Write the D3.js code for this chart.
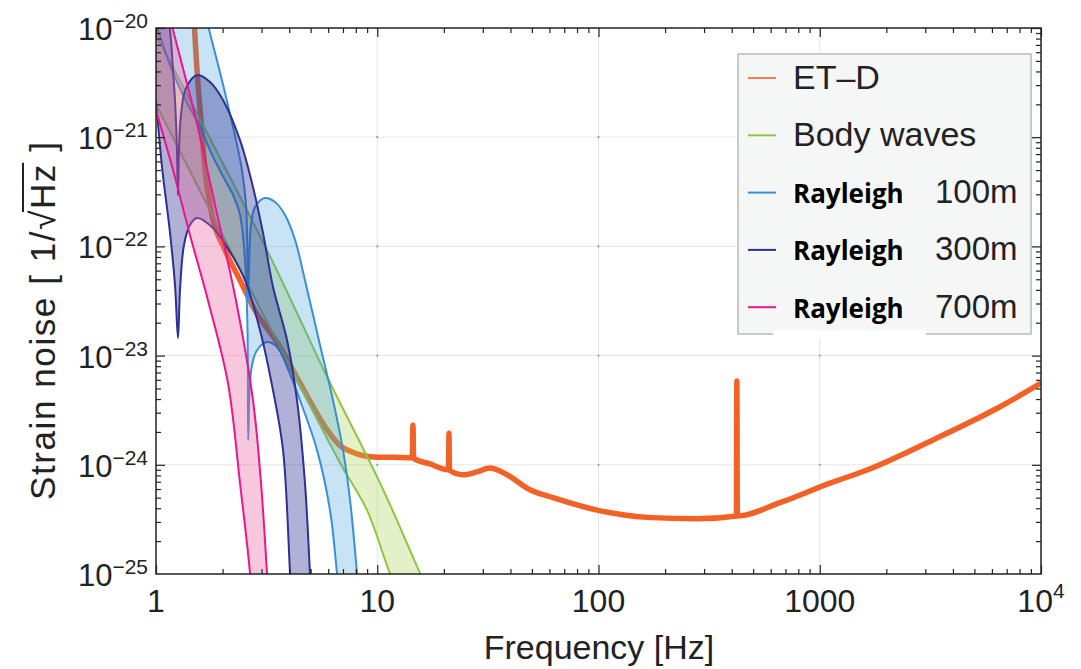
<!DOCTYPE html>
<html>
<head>
<meta charset="utf-8">
<script src="https://cdn.jsdelivr.net/npm/d3@7"></script>
<style>
  body { margin: 0; background: #fff; }
  svg text { font-family: "Liberation Sans", Arial, sans-serif; fill: #222; }
</style>
</head>
<body>
<svg id="chart" width="1081" height="669"></svg>
<script>
// [frequency Hz, strain 1/sqrt(Hz)]
const etdCurve = [
  [1.485, 1.18e-20], [1.532, 4.1e-21], [1.597, 1.44e-21], [1.665, 5.0e-22],
  [1.791, 1.94e-22], [2.05, 9.3e-23], [2.397, 4.9e-23], [2.802, 2.6e-23],
  [3.636, 1.2e-23], [4.476, 5.6e-24], [5.928, 2.1e-24], [6.786, 1.5e-24],
  [7.689, 1.31e-24], [9.568, 1.18e-24], [12.0, 1.17e-24], [14.4, 1.16e-24],
  [14.5, 2.3e-24], [14.6, 1.15e-24], [17.3, 1.02e-24], [21.0, 9.0e-25],
  [21.1, 1.95e-24], [21.2, 8.9e-25], [24.4, 8.1e-25], [28.2, 8.6e-25],
  [32.3, 9.35e-25], [38.6, 8.1e-25], [49, 5.9e-25], [62.3, 5.0e-25],
  [98.4, 3.85e-25], [166, 3.3e-25], [279, 3.2e-25], [420, 3.4e-25],
  [422, 5.85e-24], [424, 3.4e-25], [661, 4.5e-25], [1113, 6.8e-25],
  [1635, 8.95e-25], [3251, 1.69e-24], [6527, 3.4e-24], [10000, 5.6e-24]
];

const bodyHigh = [[1.0, 8.6e-21], [3.17, 9.3e-23], [5.93, 6.4e-24], [10.3, 6.8e-25], [15.6, 1.02e-25], [17.3, 6.4e-26]];
const bodyLow = [[1.0, 2.0e-21], [2.16, 9.3e-23], [3.75, 1.06e-23], [6.79, 1.04e-24], [8.99, 3.85e-25], [11.4, 1.02e-25], [12.67, 6.4e-26]];

const r100High = [
  [1.68, 1.31e-20], [1.718, 1.06e-20], [1.988, 3.3e-21], [2.299, 9.4e-22], [2.447, 5.0e-22],
  [2.552, 2.4e-22], [2.592, 7.5e-23], [2.61, 3.2e-23], [2.646, 9.3e-23], [2.688, 1.57e-22],
  [2.802, 2.3e-22], [3.11, 2.77e-22], [3.451, 2.55e-22], [3.83, 1.94e-22], [4.249, 1.15e-22],
  [4.714, 4.9e-23], [5.511, 1.25e-23], [6.31, 3.9e-24], [7.0, 1.37e-24], [7.53, 4.8e-25],
  [8.1, 1.02e-25], [8.36, 4.7e-26]
];
const r100Low = [
  [0.95, 1.25e-20], [1.0, 1.05e-20], [1.181, 4.1e-21], [1.381, 2.06e-21], [1.58, 1.24e-21],
  [1.81, 6.6e-22], [2.05, 4.06e-22], [2.228, 2.96e-22], [2.397, 1.94e-22], [2.525, 7.5e-23],
  [2.592, 1.71e-23], [2.61, 1.69e-24], [2.646, 4.8e-24], [2.716, 8.2e-24], [2.861, 1.12e-23],
  [3.175, 1.33e-23], [3.524, 1.2e-23], [3.91, 7.9e-24], [4.476, 3.9e-24], [5.342, 1.37e-24],
  [6.115, 3.85e-25], [6.578, 1.02e-25], [6.786, 5.8e-26]
];

const r300High = [
  [1.121, 1.46e-20], [1.157, 9.6e-21], [1.194, 4.1e-21], [1.225, 1.77e-21], [1.244, 7.6e-22],
  [1.257, 2.96e-22], [1.27, 7.6e-22], [1.297, 1.6e-21], [1.366, 2.82e-21], [1.532, 3.7e-21],
  [1.754, 3.2e-21], [2.008, 2.19e-21], [2.397, 9.4e-22], [2.744, 3.5e-22], [3.045, 1.33e-22],
  [3.38, 4.25e-23], [3.91, 1.39e-23], [4.339, 3.9e-24], [4.714, 6.8e-25], [4.966, 1.02e-25],
  [5.07, 4.7e-26]
];
const r300Low = [
  [1.0, 2.19e-21], [1.065, 5.3e-22], [1.157, 1.33e-22], [1.219, 4.4e-23], [1.257, 1.45e-23],
  [1.284, 4.0e-23], [1.338, 1.03e-22], [1.424, 1.57e-22], [1.532, 1.82e-22], [1.81, 1.47e-22],
  [2.16, 8.9e-23], [2.525, 4.9e-23], [2.952, 1.71e-23], [3.38, 4.8e-24], [3.75, 1.37e-24],
  [4.034, 1.02e-25], [4.119, 4.7e-26]
];

const r700High = [
  [1.145, 1.46e-20], [1.181, 1.06e-20], [1.50, 1.6e-21], [1.848, 2.4e-22], [2.299, 3.2e-23],
  [2.744, 3.9e-24], [2.983, 6.8e-25], [3.175, 1.02e-25], [3.27, 3.8e-26]
];
const r700Low = [
  [1.0, 1.77e-21], [1.194, 5.0e-22], [1.424, 1.27e-22], [1.718, 3.2e-23], [2.115, 5.6e-24],
  [2.397, 6.8e-25], [2.66, 1.02e-25], [2.744, 3.8e-26]
];

const xMajor = [1, 10, 100, 1000, 10000];
const xTickLabels = ["1", "10", "100", "1000", "10"];
const xTickSup = ["", "", "", "", "4"];
const yExponents = [-20, -21, -22, -23, -24, -25];

const legendLabels = ["ET–D", "Body waves", "Rayleigh", "Rayleigh", "Rayleigh"];
const legendDepths = ["", "", "100m", "300m", "700m"];
const seriesColors = ["#f26125", "#8dc63f", "#3b8fd8", "#2e3192", "#e9168c"];
const fillColors = [null, "#a5cd4a", "#3a9ad9", "#2e3192", "#e8609f"];
const fillOpacity = [0, 0.3, 0.28, 0.38, 0.35];

// plot box
const plot = { left: 156, right: 1041, top: 28, bottom: 574 };

const x = d3.scaleLog().domain([1, 1e4]).range([plot.left, plot.right]);
const y = d3.scaleLog().domain([1e-25, 1e-20]).range([plot.bottom, plot.top]);

const svg = d3.select("#chart");

svg.append("defs").append("clipPath").attr("id", "plotClip")
  .append("rect")
  .attr("x", plot.left).attr("y", plot.top)
  .attr("width", plot.right - plot.left).attr("height", plot.bottom - plot.top);

// gridlines
const gridX = xMajor.slice(1, -1);
const gridY = yExponents.slice(1, -1).map(e => Math.pow(10, e));
const grid = svg.append("g");
grid.selectAll(".gx").data(gridX).enter().append("line")
  .attr("x1", d => x(d)).attr("x2", d => x(d))
  .attr("y1", plot.top).attr("y2", plot.bottom)
  .attr("stroke", "#e6e6e6").attr("stroke-width", 1);
grid.selectAll(".gy").data(gridY).enter().append("line")
  .attr("x1", plot.left).attr("x2", plot.right)
  .attr("y1", d => y(d)).attr("y2", d => y(d))
  .attr("stroke", "#e6e6e6").attr("stroke-width", 1);
gridX.forEach(gx => gridY.forEach(gy => {
  grid.append("circle").attr("cx", x(gx)).attr("cy", y(gy)).attr("r", 1.1).attr("fill", "#9a9a9a");
}));

const plotArea = svg.append("g").attr("clip-path", "url(#plotClip)");

const smooth = d3.line()
  .x(d => x(d[0])).y(d => y(d[1]))
  .curve(d3.curveCatmullRom.alpha(0.5));

// ET-D first, the bands are laid over it
plotArea.append("path")
  .attr("d", d3.line().x(d => x(d[0])).y(d => y(d[1])).curve(d3.curveMonotoneX)(etdCurve))
  .attr("fill", "none")
  .attr("stroke", seriesColors[0])
  .attr("stroke-width", 5.5)
  .attr("stroke-linejoin", "round");

function bandPath(hi, lo) {
  const lo0 = [x(lo[0][0]), y(lo[0][1])];
  const hi0 = [x(hi[0][0]), y(hi[0][1])];
  const back = smooth(lo.slice().reverse()).replace(/^M/, "L");
  return smooth(hi) + back +
    `L${lo0[0] - 40},${lo0[1]}L${lo0[0] - 40},-60L${hi0[0]},-60Z`;
}

const bands = [[bodyHigh, bodyLow], [r100High, r100Low], [r300High, r300Low], [r700High, r700Low]];
bands.forEach(([hi, lo], i) => {
  const k = i + 1;
  plotArea.append("path")
    .attr("d", bandPath(hi, lo))
    .attr("fill", fillColors[k])
    .attr("fill-opacity", fillOpacity[k])
    .attr("stroke", "none");
  [hi, lo].forEach(s => {
    plotArea.append("path")
      .attr("d", smooth(s))
      .attr("fill", "none")
      .attr("stroke", seriesColors[k])
      .attr("stroke-width", 2);
  });
});

// frame and ticks (inside, on all four sides)
const isMajor = v => Math.abs(Math.log10(v) - Math.round(Math.log10(v))) < 1e-6;
const xAll = x.ticks();
const yAll = y.ticks();
const xMinor = xAll.filter(v => !isMajor(v));
const yMinor = yAll.filter(v => !isMajor(v));
const yMajor = yAll.filter(isMajor);

function addTicks(axis, transform, values, size) {
  svg.append("g").attr("transform", transform)
    .call(axis.tickValues(values).tickSize(size).tickFormat(""))
    .call(g => g.select(".domain").remove())
    .selectAll("line").attr("stroke", "#222").attr("stroke-width", 1.2);
}
[[xMajor, -9], [xMinor, -5]].forEach(([vals, len]) => {
  addTicks(d3.axisBottom(x), `translate(0,${plot.bottom})`, vals, len);
  addTicks(d3.axisTop(x), `translate(0,${plot.top})`, vals, len);
});
[[yMajor, -9], [yMinor, -5]].forEach(([vals, len]) => {
  addTicks(d3.axisLeft(y), `translate(${plot.left},0)`, vals, len);
  addTicks(d3.axisRight(y), `translate(${plot.right},0)`, vals, len);
});

svg.append("rect")
  .attr("x", plot.left).attr("y", plot.top)
  .attr("width", plot.right - plot.left).attr("height", plot.bottom - plot.top)
  .attr("fill", "none").attr("stroke", "#222").attr("stroke-width", 1.5);

// x tick labels
xMajor.forEach((v, i) => {
  const t = svg.append("text")
    .attr("x", x(v)).attr("y", 612)
    .attr("text-anchor", "middle")
    .style("font-size", "32px")
    .text(xTickLabels[i]);
  if (xTickSup[i]) {
    t.append("tspan").attr("dy", -14).style("font-size", "21px").text(xTickSup[i]);
  }
});

// y tick labels 10^-n
yExponents.forEach(e => {
  const ty = y(Math.pow(10, e));
  const t = svg.append("text")
    .attr("x", 148).attr("y", ty + 12)
    .attr("text-anchor", "end")
    .style("font-size", "31px");
  t.append("tspan").text("10");
  t.append("tspan").attr("dy", -12).style("font-size", "21px").text("−" + Math.abs(e));
});

// axis titles
svg.append("text")
  .attr("x", 599).attr("y", 659)
  .attr("text-anchor", "middle")
  .style("font-size", "34px")
  .text("Frequency [Hz]");

const yl = svg.append("g").attr("transform", "translate(55,321) rotate(-90)");
const ylt = yl.append("text")
  .attr("text-anchor", "middle")
  .attr("textLength", 358)
  .attr("lengthAdjust", "spacing")
  .style("font-size", "35px");
ylt.append("tspan").text("Strain noise [ 1/");
ylt.append("tspan").text("√");
ylt.append("tspan").text("Hz");
ylt.append("tspan").text(" ]");
const ylNode = ylt.node();
const sq = ylNode.getExtentOfChar(17);
const zz = ylNode.getExtentOfChar(19);
yl.append("line")
  .attr("x1", sq.x + sq.width - 1.5).attr("x2", zz.x + zz.width + 2)
  .attr("y1", -32).attr("y2", -32)
  .attr("stroke", "#222").attr("stroke-width", 2);

// legend
const legend = svg.append("g");
legend.append("rect")
  .attr("x", 738).attr("y", 54).attr("width", 293).attr("height", 280)
  .attr("fill", "#f5f7f7").attr("stroke", "#b9bcbc").attr("stroke-width", 1.5);

legendLabels.forEach((lab, i) => {
  const ry = 78 + i * 57.3;
  legend.append("line")
    .attr("x1", 748).attr("x2", 776).attr("y1", ry).attr("y2", ry)
    .attr("stroke", seriesColors[i]).attr("stroke-width", 2).attr("stroke-opacity", i === 0 ? 0.8 : 1);
  const bold = legendDepths[i] !== "";
  legend.append("text")
    .attr("x", 793).attr("y", ry + 10.5)
    .style("font-size", bold ? "26px" : "34px")
    .style("font-family", bold ? "'Open Sans', sans-serif" : null)
    .style("font-weight", bold ? 700 : 400)
    .style("fill", bold ? "#000" : "#222")
    .text(lab);
  if (bold) {
    legend.append("text")
      .attr("x", 935).attr("y", ry + 10.5)
      .style("font-size", "33px")
      .text(legendDepths[i]);
  }
});
legend.append("rect")
  .attr("x", 773).attr("y", 330).attr("width", 153).attr("height", 8)
  .attr("fill", "#fff");
</script>
</body>
</html>
